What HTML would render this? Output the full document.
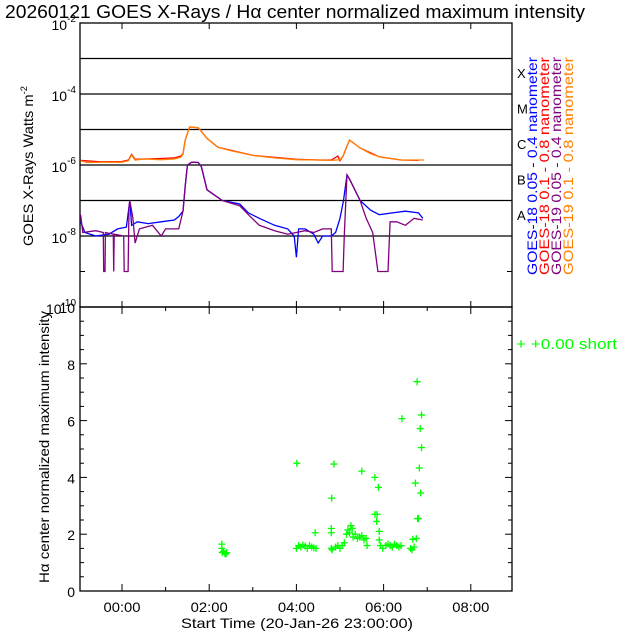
<!DOCTYPE html>
<html><head><meta charset="utf-8">
<style>
html,body{margin:0;padding:0;background:#fff;}
svg{display:block;font-family:"Liberation Sans",sans-serif;}
</style></head>
<body>
<svg id="chart" width="640" height="640" viewBox="0 0 640 640" xmlns="http://www.w3.org/2000/svg">
<rect width="640" height="640" fill="#fff"/>
<text x="5" y="18" font-size="18" textLength="580" lengthAdjust="spacingAndGlyphs" fill="#000">20260121 GOES X-Rays / Hα center normalized maximum intensity</text>
<g id="topPanel"></g>
<g id="botPanel"></g>
</svg>
<script>
// ---- data ----
const xTickHours = [0, 2, 4, 6, 8];
const xTickLabels = ["00:00", "02:00", "04:00", "06:00", "08:00"];
const yTopTickExp = [-2, -4, -6, -8, -10];
const flareClasses = ["A", "B", "C", "M", "X"];
const yBotTicks = [0, 2, 4, 6, 8, 10];
const legendNames = ["GOES-18 0.05 - 0.4 nanometer","GOES-18 0.1 - 0.8 nanometer","GOES-19 0.05 - 0.4 nanometer","GOES-19 0.1 - 0.8 nanometer"];
const legendColors = ["#0000ff","#ff0000","#800080","#ff8000"];
// time (hours from 00:00) and log10 flux
const orangeT = [-0.95,-0.8,-0.4,0.0,0.15,0.22,0.3,0.5,0.9,1.2,1.35,1.4,1.45,1.55,1.75,1.95,2.2,2.5,3.0,3.5,4.0,4.5,4.8,5.0,5.07,5.15,5.22,5.46,5.7,5.9,6.4,6.93];
const orangeV = [-5.88,-5.93,-5.92,-5.92,-5.88,-5.72,-5.86,-5.83,-5.85,-5.83,-5.78,-5.7,-5.3,-4.93,-4.95,-5.25,-5.5,-5.6,-5.73,-5.8,-5.85,-5.86,-5.87,-5.85,-5.75,-5.5,-5.3,-5.52,-5.68,-5.77,-5.86,-5.86];
const redT = [-0.95,-0.5,0.0,0.15,0.22,0.3,0.8,1.2,1.35,1.4,1.45,1.55,1.75,1.95,2.2,3.0,4.0,4.5,4.8,4.95,5.0,5.07,5.15,5.22,5.46,5.9,6.4,6.8];
const redV = [-5.87,-5.91,-5.9,-5.86,-5.7,-5.84,-5.82,-5.8,-5.75,-5.68,-5.3,-4.93,-4.95,-5.25,-5.5,-5.73,-5.84,-5.86,-5.86,-5.75,-5.88,-5.75,-5.5,-5.3,-5.52,-5.77,-5.86,-5.87];
const blueT = [-0.95,-0.85,-0.6,-0.3,-0.1,0.1,0.18,0.22,0.35,0.6,0.9,1.2,1.3,1.4,1.45,1.5,1.6,1.75,1.82,1.95,2.3,2.7,2.9,3.15,3.5,3.8,3.95,4.0,4.05,4.2,4.4,4.5,4.6,4.8,4.9,5.0,5.08,5.16,5.22,5.46,5.7,5.9,6.2,6.5,6.8,6.9];
const blueV = [-7.6,-7.9,-8.0,-7.95,-7.8,-7.75,-7.0,-7.7,-7.6,-7.65,-7.6,-7.55,-7.45,-7.3,-6.6,-6.0,-5.92,-5.93,-6.05,-6.7,-7.0,-7.1,-7.35,-7.5,-7.7,-7.8,-8.0,-8.6,-7.8,-7.8,-7.95,-8.2,-8.0,-8.0,-7.9,-7.5,-7.0,-6.28,-6.4,-7.0,-7.27,-7.4,-7.35,-7.3,-7.35,-7.5];
const purpleT = [-0.95,-0.9,-0.6,-0.43,-0.42,-0.39,-0.38,-0.2,-0.19,-0.18,0.04,0.05,0.14,0.16,0.18,0.25,0.3,0.4,0.7,0.9,1.0,1.3,1.4,1.45,1.5,1.6,1.75,1.82,1.95,2.3,2.7,2.9,3.15,3.5,3.8,4.2,4.4,4.6,4.8,4.82,5.07,5.1,5.16,5.22,5.46,5.6,5.75,5.87,6.1,6.15,6.3,6.5,6.7,6.9];
const purpleV = [-7.4,-7.9,-7.85,-7.9,-9,-9,-7.9,-7.95,-9,-7.95,-8.0,-9,-9,-7.2,-7.0,-7.5,-8.2,-7.8,-7.7,-8.0,-7.8,-7.8,-7.3,-6.6,-6.0,-5.92,-5.93,-6.05,-6.7,-7.0,-7.15,-7.4,-7.7,-7.85,-7.95,-7.85,-7.9,-7.8,-7.8,-9,-9,-7.9,-6.28,-6.4,-7.0,-7.5,-7.9,-9,-9,-7.6,-7.6,-7.7,-7.5,-7.55];
// H-alpha points
const haT = [2.29,2.29,2.3,2.33,2.36,2.4,2.38,4.01,4.0,4.05,4.1,4.15,4.2,4.25,4.3,4.35,4.4,4.45,4.43,4.81,4.8,4.8,4.8,4.82,4.86,4.9,4.95,5.0,5.05,5.1,5.15,5.18,5.22,5.25,5.28,5.3,5.35,5.4,5.45,5.5,5.55,5.6,5.62,5.5,5.8,5.8,5.85,5.84,5.88,5.9,5.9,5.93,5.98,6.05,6.1,6.15,6.2,6.25,6.3,6.35,6.4,6.42,6.62,6.65,6.7,6.67,6.75,6.73,6.77,6.78,6.8,6.82,6.84,6.87,6.87,6.85];
const haV = [1.65,1.5,1.35,1.4,1.32,1.35,1.3,4.5,1.5,1.6,1.55,1.62,1.58,1.5,1.6,1.55,1.52,1.5,2.05,3.27,2.2,2.05,1.5,1.45,4.47,1.55,1.6,1.5,1.6,1.7,2.0,2.15,2.05,2.3,2.2,1.9,2.0,1.85,1.9,1.95,1.8,1.85,1.6,4.22,4.0,2.7,2.7,2.45,3.65,2.1,1.8,1.6,1.5,1.6,1.65,1.6,1.55,1.65,1.6,1.55,1.6,6.07,1.5,1.45,1.55,1.82,1.85,3.8,7.37,2.55,2.55,4.33,5.72,6.2,5.05,3.45];

// ---- axes ----
const L=80,R=512,TT=23,TB=307,BT=307,BB=591;
const x = h => 122 + h*43.6;
const yTop = lg => TT + (-2 - lg)*35.5;
const yBot = v => BB - v*28.4;
const NS="http://www.w3.org/2000/svg";
function mk(parent,tag,attrs,txt){const e=document.createElementNS(NS,tag);for(const k in attrs)e.setAttribute(k,attrs[k]);if(txt!==undefined)e.textContent=txt;parent.appendChild(e);return e;}
const topG=document.getElementById('topPanel'), botG=document.getElementById('botPanel');

// top frame
let f=mk(topG,'rect',{x:L,y:TT,width:R-L,height:TB-TT,fill:'none',stroke:'#000','stroke-width':1.3});


for(let e=-3;e>=-8;e--){
  const g=mk(topG,'line',{x1:L,x2:R,y1:yTop(e),y2:yTop(e),stroke:'#000','stroke-width':1.3});
  
  
}
for(let e=-2;e>=-10;e--){
  mk(topG,'line',{x1:L,x2:L+5,y1:yTop(e),y2:yTop(e),stroke:'#000'});
  mk(topG,'line',{x1:R-5,x2:R,y1:yTop(e),y2:yTop(e),stroke:'#000'});
}
yTopTickExp.forEach(e=>{
  const t=mk(topG,'text',{x:L-4,y:yTop(e)+7,'text-anchor':'end','font-size':14});
  
  
  t.appendChild(document.createTextNode('10'));
  mk(t,'tspan',{dy:-8,'font-size':10},String(e));
});
for(let h=0;h<=8;h+=2){
  mk(topG,'line',{x1:x(h),x2:x(h),y1:TT,y2:TT+6,stroke:'#000'});
  mk(topG,'line',{x1:x(h),x2:x(h),y1:TB-6,y2:TB,stroke:'#000'});
}
let yt=mk(topG,'text',{transform:'translate(33,166) rotate(-90)','text-anchor':'middle','font-size':14,textLength:160,lengthAdjust:'spacingAndGlyphs'});


yt.appendChild(document.createTextNode('GOES X-Rays Watts m'));
mk(yt,'tspan',{dy:-6,'font-size':9},'-2');
flareClasses.forEach((c,i)=>{
  const t=mk(topG,'text',{x:517,y:yTop(-8+i)-16,'font-size':13},c);
  
  
});
legendNames.forEach((n,i)=>{
  const t=mk(topG,'text',{transform:`translate(${537+i*12},275) rotate(-90)`,'font-size':14,fill:legendColors[i],textLength:218,lengthAdjust:'spacingAndGlyphs'},n);
  
  
});
function series(T,V,color,name){
  const pts=T.map((t,i)=>x(t).toFixed(1)+','+yTop(V[i]).toFixed(1)).join(' ');
  const p=mk(topG,'polyline',{points:pts,fill:'none',stroke:color,'stroke-width':1.3});
  
  
}
series(redT,redV,'#ff0000','series-goes18-long');
series(orangeT,orangeV,'#ff8000','series-goes19-long');
series(blueT,blueV,'#0000ff','series-goes18-short');
series(purpleT,purpleV,'#800080','series-goes19-short');

// bottom frame
f=mk(botG,'rect',{x:L,y:BT,width:R-L,height:BB-BT,fill:'none',stroke:'#000','stroke-width':1.3});


for(let v=0;v<=10;v+=0.5){
  const w=(v%2===0)?7:4;
  mk(botG,'line',{x1:L,x2:L+w,y1:yBot(v),y2:yBot(v),stroke:'#000'});
  mk(botG,'line',{x1:R-w,x2:R,y1:yBot(v),y2:yBot(v),stroke:'#000'});
}
yBotTicks.forEach(v=>{
  const t=mk(botG,'text',{x:L-5,y:yBot(v)+6,'text-anchor':'end','font-size':14},String(v));
  
  
});
for(let h=0;h<=8;h++){
  const w=(h%2===0)?7:4;
  mk(botG,'line',{x1:x(h),x2:x(h),y1:BB-w,y2:BB,stroke:'#000'});
  mk(botG,'line',{x1:x(h),x2:x(h),y1:BT,y2:BT+w,stroke:'#000'});
}
xTickHours.forEach((h,i)=>{
  const t=mk(botG,'text',{x:x(h),y:612,'text-anchor':'middle','font-size':14,textLength:37,lengthAdjust:'spacingAndGlyphs'},xTickLabels[i]);
  
  
});
let xt=mk(botG,'text',{x:297,y:628,'text-anchor':'middle','font-size':14,textLength:232,lengthAdjust:'spacingAndGlyphs'},'Start Time (20-Jan-26 23:00:00)');


let yb=mk(botG,'text',{transform:'translate(49,447) rotate(-90)','text-anchor':'middle','font-size':14,textLength:272,lengthAdjust:'spacingAndGlyphs'},'Hα center normalized maximum intensity');


let lg=mk(botG,'text',{x:516,y:349,'font-size':15,fill:'#00ff00',textLength:101,lengthAdjust:'spacingAndGlyphs'},'+  +0.00 short');


haT.forEach((t,i)=>{
  const cx=x(t),cy=yBot(haV[i]);
  const p=mk(botG,'path',{d:`M${cx-3.5},${cy}H${cx+3.5}M${cx},${cy-3.5}V${cy+3.5}`,stroke:'#00ff00','stroke-width':1.3,fill:'none'});
  
  
});
</script>
</body></html>
